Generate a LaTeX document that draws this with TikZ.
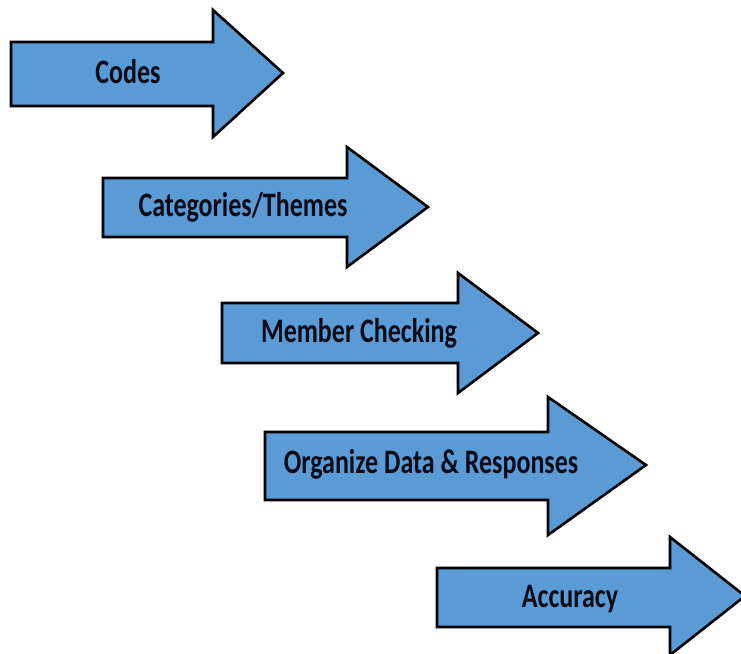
\documentclass[tikz,border=0pt]{standalone}
\usepackage{fontspec}
\setmainfont{Carlito}
\definecolor{arrowblue}{HTML}{5B9BD5}
\definecolor{labelink}{HTML}{0B0B18}
\newcommand{\tallbold}[1]{\scalebox{1}[1.32]{\bfseries #1}}
\tikzset{
  blockarrow/.style={draw=black, fill=arrowblue, line width=2.6pt, line join=miter},
  steplabel/.style={font=\fontsize{26}{30}\selectfont, text=labelink, inner sep=0pt, anchor=base}
}
\begin{document}
\begin{tikzpicture}[x=1pt, y=-1pt]
\useasboundingbox (0,0) rectangle (741,653);
% step arrows: body left, top, bottom; head base, top, bottom; tip
\draw[blockarrow] (11,42) -- (213,42) -- (213,10) -- (283,73) -- (213,137) -- (213,106) -- (11,106) -- cycle;
\draw[blockarrow] (103,178) -- (347,178) -- (347,147) -- (428,207) -- (347,267) -- (347,237) -- (103,237) -- cycle;
\draw[blockarrow] (222,303) -- (458,303) -- (458,273) -- (538,333) -- (458,393) -- (458,363) -- (222,363) -- cycle;
\draw[blockarrow] (265,432) -- (548,432) -- (548,397) -- (646,465) -- (548,535) -- (548,500) -- (265,500) -- cycle;
\draw[blockarrow] (437,568) -- (670,568) -- (670,537) -- (745,596) -- (670,655) -- (670,627) -- (437,627) -- cycle;
% labels, placed on their baselines
\node[steplabel] (codes) at (128,83) {\tallbold{Codes}};
\node[steplabel] (themes) at (243,216) {\tallbold{Categories/Themes}};
\node[steplabel] (member) at (359,342) {\tallbold{Member Checking}};
\node[steplabel] (organize) at (431,473) {\tallbold{Organize Data \& Responses}};
\node[steplabel] (accuracy) at (570,607) {\tallbold{Accuracy}};
\end{tikzpicture}
\end{document}
